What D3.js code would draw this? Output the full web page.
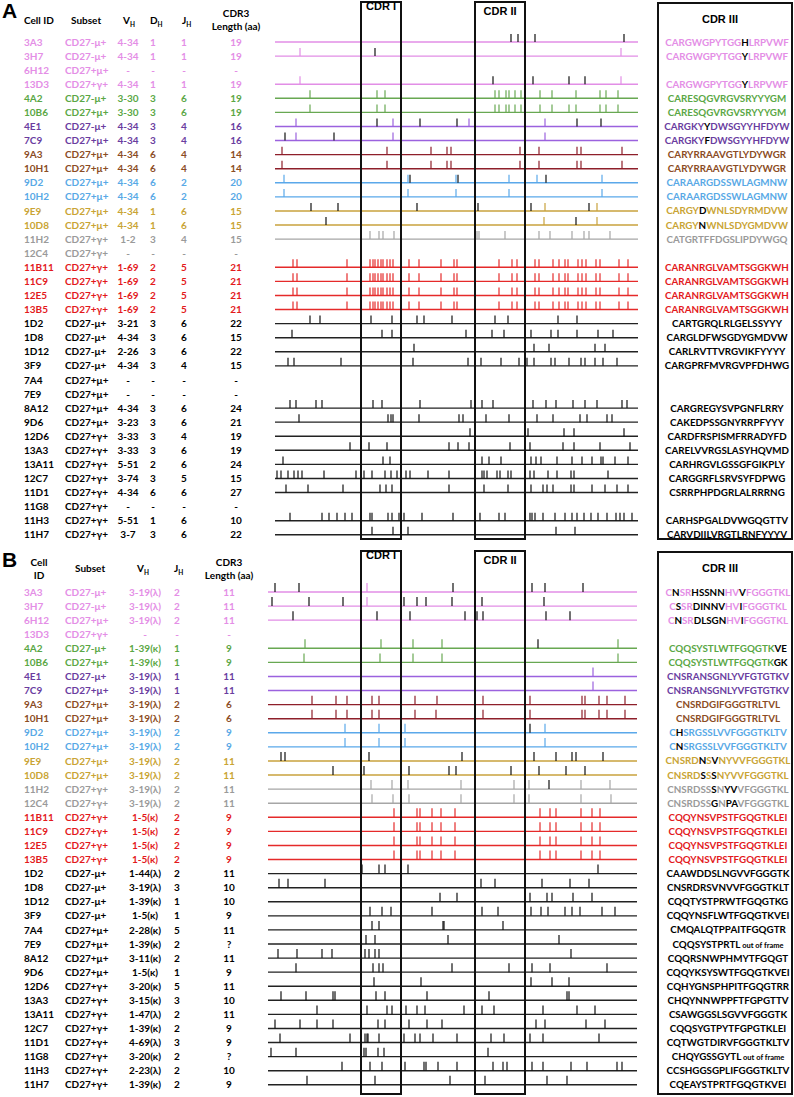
<!DOCTYPE html>
<html>
<head>
<meta charset="utf-8">
<script src="https://cdn.jsdelivr.net/npm/d3@7"></script>
<style>
  body { margin: 0; background: #fff; }
  text { font-family: Lato, "Open Sans", sans-serif; font-weight: bold; }
  .arial { font-family: "Liberation Sans", Arial, sans-serif; }
</style>
</head>
<body>
<div id="chart"></div>
<script>
// cells, same order in both panels
const cellIds = ["3A3","3H7","6H12","13D3","4A2","10B6","4E1","7C9","9A3","10H1","9D2","10H2","9E9","10D8","11H2","12C4",
  "11B11","11C9","12E5","13B5","1D2","1D8","1D12","3F9","7A4","7E9","8A12","9D6","12D6","13A3","13A11","12C7","11D1","11G8","11H3","11H7"];
const subsets = ["CD27-μ+","CD27-μ+","CD27+μ+","CD27+γ+","CD27-μ+","CD27+μ+","CD27-μ+","CD27+μ+","CD27+μ+","CD27+μ+","CD27+μ+","CD27+μ+","CD27+μ+","CD27+μ+","CD27+γ+","CD27+γ+",
  "CD27+γ+","CD27+γ+","CD27+γ+","CD27+γ+","CD27-μ+","CD27-μ+","CD27-μ+","CD27-μ+","CD27+μ+","CD27+μ+","CD27+μ+","CD27+μ+","CD27+γ+","CD27+γ+","CD27+γ+","CD27+γ+","CD27+γ+","CD27+γ+","CD27+γ+","CD27+γ+"];
const groups = ["pink","pink","pink","pink","green","green","purple","purple","brown","brown","blue","blue","gold","gold","gray","gray",
  "red","red","red","red","black","black","black","black","black","black","black","black","black","black","black","black","black","black","black","black"];

// panel A - heavy chain
const heavyV = ["4-34","4-34","-","4-34","3-30","3-30","4-34","4-34","4-34","4-34","4-34","4-34","4-34","4-34","1-2","-",
  "1-69","1-69","1-69","1-69","3-21","4-34","2-26","4-34","-","-","4-34","3-23","3-33","3-33","5-51","3-74","4-34","-","5-51","3-7"];
const heavyD = ["1","1","-","1","3","3","3","3","6","6","6","6","1","1","3","-","2","2","2","2","3","3","3","3","-","-","3","3","3","3","2","3","6","-","1","3"];
const heavyJ = ["1","1","-","1","6","6","4","4","4","4","2","2","6","6","4","-","5","5","5","5","6","6","6","4","-","-","6","6","4","6","6","5","6","-","6","6"];
const heavyLen = ["19","19","-","19","19","19","16","16","14","14","20","20","15","15","15","-","21","21","21","21","22","15","22","15","-","-","24","21","19","19","24","15","27","-","10","22"];
const heavyCdr3 = ["CARGWGPYTGG[H]LRPVWF","CARGWGPYTGG[Y]LRPVWF","","CARGWGPYTGG[Y]LRPVWF","CARESQGVRGVSRYYYGM","CARESQGVRGVSRYYYGM",
  "CARGKY[Y]DWSGYYHFDYW","CARGKY[F]DWSGYYHFDYW","CARYRRAAVGTLYDYWGR","CARYRRAAVGTLYDYWGR","CARAARGDSSWLAGMNW","CARAARGDSSWLAGMNW",
  "CARGY[D]WNLSDYRMDVW","CARGY[N]WNLSDYGMDVW","CATGRTFFDGSLIPDYWGQ","",
  "CARANRGLVAMTSGGKWH","CARANRGLVAMTSGGKWH","CARANRGLVAMTSGGKWH","CARANRGLVAMTSGGKWH",
  "CARTGRQLRLGELSSYYY","CARGLDFWSGDYGMDVW","CARLRVTTVRGVIKFYYYY","CARGPRFMVRGVPFDHWG","","",
  "CARGREGYSVPGNFLRRY","CAKEDPSSGNYRRPFYYY","CARDFRSPISMFRRADYFD","CARELVVRGSLASYHQVMD","CARHRGVLGSSGFGIKPLY",
  "CARGGRFLSRVSYFDPWG","CSRRPHPDGRLALRRRNG","","CARHSPGALDVWGQGTTV","CARVDIILVRGTLRNFYYYV"];
// mutation positions (nt): shared = drawn in the clone colour, unique = black
const redHeavy = [18,22,72,95,98,100,103,106,108,112,115,118,134,144,166,179,182,224,237,242,260,264,278,284,290,293,303,307,311,321,325,344,353];
const heavyShared = [[],[25,346],[],[25,346],
  [35,102,110,220,224,231,234,240,246,265,277,301,325,331,343],
  [35,102,110,220,224,231,234,240,246,265,277,294,301,325,331,343],
  [21,118,194,270],[21,118,270],
  [7,112,156,172,176,245,264,302,306,347],[7,112,156,172,176,245,264,302,306,347],
  [9,133,181,234,262,327],[9,133,181,234,327],
  [270,322],[269,322],
  [95,104,108,119,202,204,230,264,275,297,309,314,335],[],
  redHeavy,redHeavy,redHeavy,redHeavy,
  [],[],[],[],[],[],[],[],[],[],[],[],[],[],[],[]];
const heavyUnique = [[236,243,260,349],[100],[],[218,258,294,310],[],[],
  [102,145,182,302,326],[10,59],[],[],[135,183,271],[],
  [36,63,142,203,256,314],[51,301],[],[],[],[],[],[],
  [35,45,96,117,142,149,177,220,233,283,302],
  [17,107,117,191,217,229,256,276,283,302,323,338],
  [139,259,274,320,330],
  [13,19,66,138,193,206,226,244,252,259,276,280,294,306,310,320,328,342],
  [],[],
  [15,21,41,47,98,107,145,196,200,207,218,258,271,281,298,310,322,347,352],
  [24,113,116,118,144,184,188,211,234,262,278,305,312,332,337],
  [195,253,289,299,349],
  [75,94,112,174,183,194,235,255,288,299,325,355],
  [8,108,115,207,214,226,256,261,266,282,297,307,317,326,328,340,353],
  [2,6,13,19,23,27,49,81,89,97,110,116,122,131,135,153,174,207,209,212,222,225,233,236,255,259,273,282,296,299,333],
  [11,33,68,105,111,117,174,209,233,256,268,272,278,296,299,317,330,342,353],
  [],
  [15,47,54,62,70,77,95,97,113,117,124,126,129,147,178,205,224,230,255,257,260,268,280,290,297,302,309,316,323,332,341,345,349,357],
  [97,118,133,281,300]];

// panel B - light chain
const lightV = ["3-19(λ)","3-19(λ)","3-19(λ)","-","1-39(κ)","1-39(κ)","3-19(λ)","3-19(λ)","3-19(λ)","3-19(λ)","3-19(λ)","3-19(λ)","3-19(λ)","3-19(λ)","3-19(λ)","3-19(λ)",
  "1-5(κ)","1-5(κ)","1-5(κ)","1-5(κ)","1-44(λ)","3-19(λ)","1-39(κ)","1-5(κ)","2-28(κ)","1-39(κ)","3-11(κ)","1-5(κ)","3-20(κ)","3-15(κ)","1-47(λ)","1-39(κ)","4-69(λ)","3-20(κ)","2-23(λ)","1-39(κ)"];
const lightJ = ["2","2","2","-","1","1","1","1","2","2","2","2","2","2","2","2","2","2","2","2","2","3","1","1","5","2","2","1","5","3","2","2","3","2","2","2"];
const lightLen = ["11","11","11","-","9","9","11","11","6","6","9","9","11","11","11","11","9","9","9","9","11","10","10","9","11","?","11","9","11","10","11","9","9","?","10","9"];
const lightCdr3 = ["C[N]SR[HSSNN]HV[V]FGGGTKL","C[S]SR[DINNV]HV[I]FGGGTKL","C[N]SR[DLSGN]HV[I]FGGGTKL","",
  "CQQSYSTLWTFGQGTK[VE]","CQQSYSTLWTFGQGTK[GK]","CNSRANSGNLYVFGTGTKV","CNSRANSGNLYVFGTGTKV",
  "CNSRDGIFGGGTRLTVL","CNSRDGIFGGGTRLTVL","C[H]SRGSSLVVFGGGTKLTV","C[N]SRGSSLVVFGGGTKLTV",
  "CNSRD[N]S[V]NYVVFGGGTKL","CNSRD[S]S[S]NYVVFGGGTKL","CNSRDSS[S]N[YV]VFGGGTKL","CNSRDSS[G]N[PA]VFGGGTKL",
  "CQQYNSVPSTFGQGTKLEI","CQQYNSVPSTFGQGTKLEI","CQQYNSVPSTFGQGTKLEI","CQQYNSVPSTFGQGTKLEI",
  "CAAWDDSLNGVVFGGGTK","CNSRDRSVNVVFGGGTKLT","CQQTYSTPRWTFGQGTKG","CQQYNSFLWTFGQGTKVEI","CMQALQTPPAITFGQGTR",
  "CQQSYSTPRTL|out of frame","CQQRSNWPHMYTFGQGT","CQQYKSYSWTFGQGTKVEI","CQHYGNSPHPITFGQGTRR","CHQYNNWPPFTFGPGTTV",
  "CSAWGGSLSGVVFGGGTK","CQQSYGTPYTFGPGTKLEI","CQTWGTDIRVFGGGTKLTV","CHQYGSSGYTL|out of frame",
  "CCSHGGSGPLIFGGGTKLTV","CQEAYSTPRTFGQGTKVEI"];
const redLight = [126,149,152,164,173,187,272,282,288,313,324,332];
const lightShared = [[99],[99],[],[],
  [37,113,145,174,350],[36,112,145,174,350],[325],[325],
  [44,68,79,104,111,147,169,215,262,314,317,331,339,357],[44,68,79,104,111,147,168,215,262,314,317,331,339,357],
  [77,111,137,277],[77,111,137,277],[],[],
  [103,124,140,193,246,261,313,342],[104,125,141,193,246,261,313,343],
  redLight,redLight,redLight,redLight,
  [],[],[],[],[],[],[],[],[],[],[],[],[],[],[],[]];
const lightUnique = [[7,31,185,264,277,315],[4,41,75,136,149,158,184,214,276],[25,109,142,197,209,215,278,302],[],
  [270],[],[],[],[],[],[262],[],
  [13,17,101,194,266,288,304,308,335],[65,96,141,181,188,243,271,298,317],[281],[],
  [],[],[],[],
  [94,111,117,140,330],
  [11,20,57,213,227,274,302,321],
  [172,189,262,279,284,305,324],
  [102,114,123,164,214,230,263,273,280,297,304,312,334,347],
  [104,111,175,176,235],
  [98,107,180,291],
  [10,29,54,64,97,101,107,111,303],
  [28,105,111,115,184,241,264,282,339],
  [106,153,263,284,301],
  [13,38,65,67,108,117,159,221,299,301],
  [49,99,119,124,138,149,157,196,214,226,275,309,327],
  [7,32,49,65,110,117,141,159,174,268,277,318,337],
  [12,82,97,99,100,111,136,147,152,165,189,223,236,262,275,331],
  [3,28,96,98,110,116,220],
  [74,102,114,137,156,158,170,189,225,235,239,264,275,303,319,349,354],
  [39,107,182,217,279,299]];

const textColor = {pink:"#e48ee6", green:"#5aa745", purple:"#6a3d9f", brown:"#8b4c24", blue:"#58a9e6", gold:"#c9a434", gray:"#9a9a9a", red:"#e3191c", black:"#000"};
const lineColor = {pink:"#e28ee6", green:"#68a852", purple:"#9b62de", brown:"#8e1f2a", blue:"#5aa8ea", gold:"#c8a23c", gray:"#a6a6a6", red:"#e52a2a", black:"#222"};

const w = 794, h = 1097;
const svg = d3.select("#chart").append("svg").attr("width", w).attr("height", h);

function sub(sel, main, s) {
  sel.text(main);
  sel.append("tspan").attr("font-size", 6.5).attr("dy", 2.5).text(s);
}

function seqText(g, x, y, str, col) {
  let parts = str.split("|");
  let t = g.append("text").attr("x", x).attr("y", y).attr("dy", "0.36em")
           .attr("text-anchor", "middle").attr("font-size", 9.8);
  parts[0].split(/(\[[A-Z]+\])/).filter(s => s.length).forEach(s => {
    if (s[0] == "[") t.append("tspan").attr("fill", "#000").text(s.slice(1, -1));
    else t.append("tspan").attr("fill", col).text(s);
  });
  if (parts[1]) t.append("tspan").attr("fill", "#000").attr("font-size", 7.5).text(" " + parts[1]);
}

function panel(opt) {
  const g = svg.append("g");
  const y = d3.scalePoint().domain(d3.range(cellIds.length)).range(opt.yRange);
  const x = d3.scaleLinear().domain(opt.xDomain).range(opt.xRange);

  g.append("text").attr("class", "arial").attr("x", 2).attr("y", opt.top + 18)
   .attr("font-size", 21).attr("font-weight", "normal").text(opt.letter);

  // header
  opt.header(g);

  // table
  cellIds.forEach((id, i) => {
    const c = textColor[groups[i]];
    const yy = y(i);
    const row = g.append("g").attr("fill", c).attr("font-size", 10);
    row.append("text").attr("x", 24).attr("y", yy).attr("dy", "0.36em").text(id);
    row.append("text").attr("x", 65).attr("y", yy).attr("dy", "0.36em").text(subsets[i]);
    opt.cols.forEach(col => {
      row.append("text").attr("x", col.x).attr("y", yy).attr("dy", "0.36em")
         .attr("text-anchor", "middle").text(col.values[i]);
    });
    if (opt.seqs[i]) seqText(g, opt.seqX, yy, opt.seqs[i], c);

    if (opt.vgene[i] == "-") return;
    const lc = lineColor[groups[i]];
    g.append("line").attr("x1", x(opt.xDomain[0])).attr("x2", x(opt.xDomain[1]))
     .attr("y1", yy).attr("y2", yy).attr("stroke", lc).attr("stroke-width", 1.4);
    g.selectAll(null).data(opt.shared[i]).enter().append("line")
     .attr("x1", d => x(d)).attr("x2", d => x(d))
     .attr("y1", yy - opt.tick).attr("y2", yy)
     .attr("stroke", lc).attr("stroke-width", 1.2);
    g.selectAll(null).data(opt.unique[i]).enter().append("line")
     .attr("x1", d => x(d)).attr("x2", d => x(d))
     .attr("y1", yy - opt.tick).attr("y2", yy)
     .attr("stroke", "#111").attr("stroke-width", 1.2);
  });

  // CDR boxes
  opt.cdr.forEach(b => {
    g.append("rect").attr("x", x(b.from)).attr("y", opt.boxTop)
     .attr("width", x(b.to) - x(b.from)).attr("height", opt.boxBottom - opt.boxTop)
     .attr("fill", "none").attr("stroke", "#111").attr("stroke-width", 2);
    g.append("text").attr("class", "arial").attr("x", (x(b.from) + x(b.to)) / 2)
     .attr("y", opt.boxTop + b.labelDy).attr("text-anchor", "middle").attr("font-size", 11).text(b.name);
  });
  g.append("rect").attr("x", 658).attr("y", opt.boxTop + 1).attr("width", 134)
   .attr("height", opt.boxBottom - opt.boxTop - 1)
   .attr("fill", "none").attr("stroke", "#111").attr("stroke-width", 2);
  g.append("text").attr("class", "arial").attr("x", 720).attr("y", opt.boxTop + 21)
   .attr("text-anchor", "middle").attr("font-size", 11).text("CDR III");
}

panel({
  letter: "A", top: 0,
  yRange: [42, 534.8], xDomain: [0, 363], xRange: [275, 638],
  vgene: heavyV, shared: heavyShared, unique: heavyUnique, seqs: heavyCdr3, seqX: 727, tick: 8,
  boxTop: 2, boxBottom: 539,
  cdr: [{name: "CDR I", from: 86, to: 126, labelDy: 8}, {name: "CDR II", from: 200, to: 250, labelDy: 13}],
  cols: [{x: 128, values: heavyV}, {x: 153, values: heavyD}, {x: 184, values: heavyJ}, {x: 236, values: heavyLen}],
  header: g => {
    const hd = g.append("g").attr("font-size", 10).attr("fill", "#000");
    hd.append("text").attr("x", 24).attr("y", 24).text("Cell ID");
    hd.append("text").attr("x", 71).attr("y", 24).text("Subset");
    sub(hd.append("text").attr("x", 123).attr("y", 24), "V", "H");
    sub(hd.append("text").attr("x", 150).attr("y", 24), "D", "H");
    sub(hd.append("text").attr("x", 182).attr("y", 24), "J", "H");
    hd.append("text").attr("x", 236).attr("y", 17).attr("text-anchor", "middle").text("CDR3");
    hd.append("text").attr("x", 236).attr("y", 30).attr("text-anchor", "middle").text("Length (aa)");
  }
});

panel({
  letter: "B", top: 549,
  yRange: [592, 1084.8], xDomain: [0, 369], xRange: [268, 637],
  vgene: lightV, shared: lightShared, unique: lightUnique, seqs: lightCdr3, seqX: 728, tick: 9,
  boxTop: 551, boxBottom: 1094,
  cdr: [{name: "CDR I", from: 93, to: 133, labelDy: 8}, {name: "CDR II", from: 207, to: 257, labelDy: 13}],
  cols: [{x: 145, values: lightV}, {x: 177, values: lightJ}, {x: 229, values: lightLen}],
  header: g => {
    const hd = g.append("g").attr("font-size", 10).attr("fill", "#000");
    hd.append("text").attr("x", 39).attr("y", 566).attr("text-anchor", "middle").text("Cell");
    hd.append("text").attr("x", 39).attr("y", 579).attr("text-anchor", "middle").text("ID");
    hd.append("text").attr("x", 75).attr("y", 572).text("Subset");
    sub(hd.append("text").attr("x", 137).attr("y", 572), "V", "H");
    sub(hd.append("text").attr("x", 174).attr("y", 572), "J", "H");
    hd.append("text").attr("x", 229).attr("y", 566).attr("text-anchor", "middle").text("CDR3");
    hd.append("text").attr("x", 229).attr("y", 579).attr("text-anchor", "middle").text("Length (aa)");
  }
});
</script>
</body>
</html>
